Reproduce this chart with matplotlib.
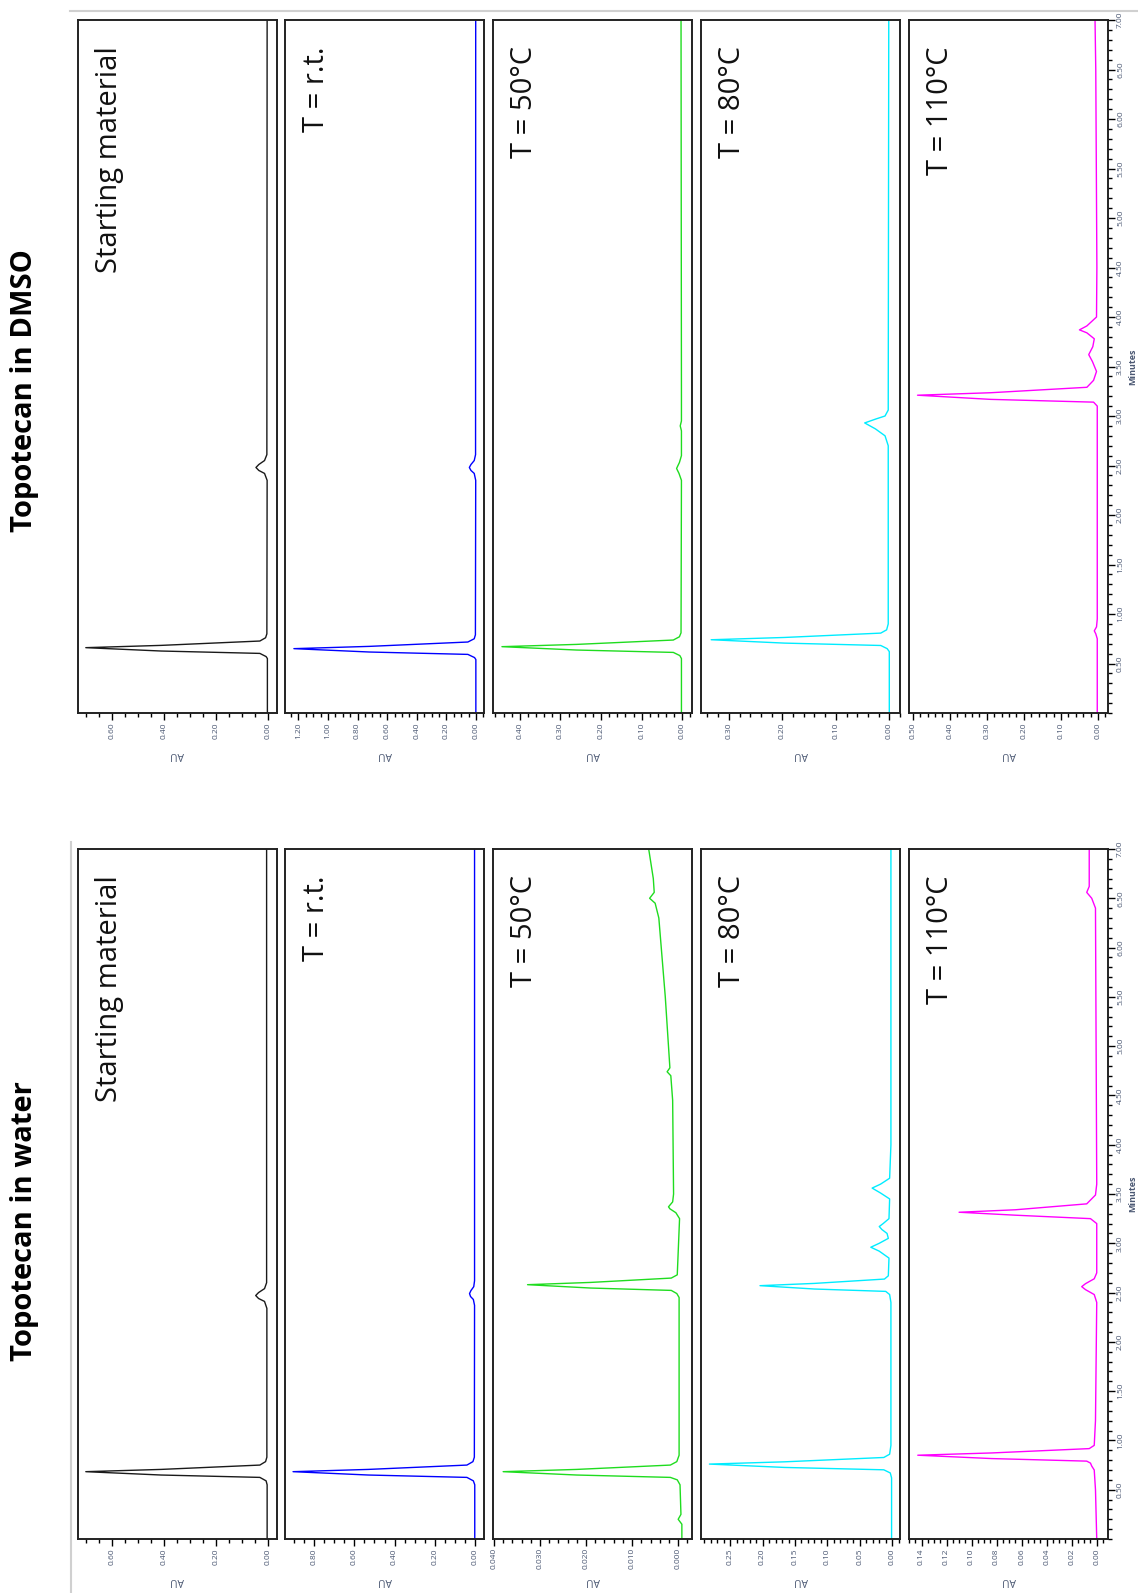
import numpy as np
import matplotlib
matplotlib.use("Agg")
import matplotlib.pyplot as plt
from matplotlib.lines import Line2D
from matplotlib.ticker import MultipleLocator, FixedLocator, FixedFormatter

plt.rcParams['font.family'] = ['Open Sans', 'DejaVu Sans']

panel_labels = ["Starting material", "T = r.t.", "T = 50°C", "T = 80°C", "T = 110°C"]
trace_colors = ["#1a1a1a", "#0000ff", "#1fdc1f", "#00ecff", "#ff00ff"]

# Topotecan in DMSO
dmso_sm_t = [0.00, 0.55, 0.57, 0.602, 0.626, 0.66, 0.683, 0.727, 0.76, 0.80, 2.35, 2.42, 2.45, 2.48, 2.51, 2.55, 2.61, 7.00]
dmso_sm_au = [0.001, 0.001, 0.006, 0.03, 0.41, 0.70, 0.41, 0.03, 0.008, 0.003, 0.002, 0.012, 0.034, 0.045, 0.034, 0.012, 0.003, 0.002]
dmso_rt_t = [0.00, 0.54, 0.56, 0.592, 0.616, 0.65, 0.673, 0.717, 0.75, 0.79, 2.35, 2.42, 2.45, 2.48, 2.51, 2.55, 2.61, 7.00]
dmso_rt_au = [0.001, 0.001, 0.010, 0.055, 0.72, 1.23, 0.72, 0.055, 0.012, 0.004, 0.002, 0.012, 0.034, 0.045, 0.034, 0.012, 0.003, 0.002]
dmso_50_t = [0.00, 0.55, 0.58, 0.612, 0.636, 0.67, 0.693, 0.737, 0.77, 0.81, 2.35, 2.42, 2.47, 2.53, 2.60, 2.85, 2.90, 2.95, 3.20, 7.00]
dmso_50_au = [0.002, 0.002, 0.006, 0.022, 0.26, 0.444, 0.26, 0.022, 0.007, 0.003, 0.002, 0.008, 0.014, 0.007, 0.002, 0.002, 0.005, 0.002, 0.002, 0.003]
dmso_80_t = [0.00, 0.62, 0.65, 0.682, 0.706, 0.74, 0.763, 0.807, 0.84, 0.90, 2.70, 2.80, 2.87, 2.93, 2.97, 3.00, 3.06, 7.00]
dmso_80_au = [0.000, 0.000, 0.004, 0.016, 0.196, 0.333, 0.196, 0.016, 0.005, 0.002, 0.002, 0.008, 0.026, 0.046, 0.025, 0.008, 0.002, 0.001]
dmso_110_t = [0.00, 0.75, 0.80, 0.83, 0.87, 0.95, 3.10, 3.14, 3.168, 3.21, 3.235, 3.29, 3.36, 3.45, 3.55, 3.62, 3.70, 3.78, 3.84, 3.87, 3.91, 4.00, 4.50, 6.50, 7.00]
dmso_110_au = [0.002, 0.002, 0.006, 0.010, 0.004, 0.002, 0.002, 0.012, 0.29, 0.487, 0.29, 0.03, 0.012, 0.004, 0.015, 0.025, 0.014, 0.010, 0.030, 0.050, 0.030, 0.004, 0.003, 0.006, 0.008]

# Topotecan in water
water_sm_t = [0.00, 0.55, 0.59, 0.625, 0.649, 0.683, 0.706, 0.75, 0.785, 0.83, 2.34, 2.41, 2.44, 2.47, 2.50, 2.54, 2.60, 7.00]
water_sm_au = [0.002, 0.002, 0.006, 0.03, 0.41, 0.70, 0.41, 0.03, 0.008, 0.003, 0.003, 0.012, 0.035, 0.046, 0.035, 0.012, 0.004, 0.004]
water_rt_t = [0.00, 0.55, 0.59, 0.625, 0.649, 0.683, 0.706, 0.75, 0.785, 0.83, 2.37, 2.43, 2.46, 2.49, 2.52, 2.56, 2.62, 7.00]
water_rt_au = [0.001, 0.001, 0.008, 0.04, 0.53, 0.905, 0.53, 0.04, 0.01, 0.003, 0.002, 0.008, 0.022, 0.027, 0.020, 0.006, 0.002, 0.002]
water_50_t = [0.00, 0.15, 0.20, 0.25, 0.55, 0.60, 0.625, 0.649, 0.683, 0.706, 0.75, 0.785, 0.85, 2.45, 2.49, 2.522, 2.546, 2.58, 2.603, 2.647, 2.68,
              3.25, 3.31, 3.35, 3.37, 3.42, 3.50, 4.45, 4.70, 4.74, 4.78, 5.50, 6.30, 6.45, 6.50, 6.56, 6.70, 7.00]
water_50_au = [-0.0008, -0.0008, 0.0000, -0.0006, -0.0004, 0.0002, 0.0017, 0.022, 0.038, 0.022, 0.0017, 0.0003, -0.0002, -0.0002, 0.0003, 0.0015, 0.019, 0.0327, 0.019, 0.0015, 0.0002,
               -0.0003, 0.0005, 0.0018, 0.0021, 0.0012, 0.0010, 0.0012, 0.0016, 0.0024, 0.0018, 0.0028, 0.0042, 0.0050, 0.0062, 0.0052, 0.0054, 0.0064]
water_80_t = [0.00, 0.62, 0.67, 0.702, 0.726, 0.76, 0.783, 0.827, 0.86, 0.95, 2.40, 2.48, 2.512, 2.536, 2.57, 2.593, 2.637, 2.67, 2.85, 2.92, 2.96, 3.00,
              3.05, 3.10, 3.14, 3.17, 3.20, 3.25, 3.45, 3.51, 3.56, 3.60, 3.66, 4.00, 7.00]
water_80_au = [0.001, 0.001, 0.003, 0.013, 0.166, 0.282, 0.166, 0.013, 0.004, 0.002, 0.002, 0.004, 0.010, 0.120, 0.204, 0.120, 0.012, 0.006, 0.005, 0.020, 0.033, 0.020,
               0.006, 0.008, 0.016, 0.020, 0.014, 0.005, 0.004, 0.018, 0.031, 0.018, 0.004, 0.002, 0.002]
water_110_t = [0.00, 0.50, 0.70, 0.74, 0.77, 0.79, 0.816, 0.85, 0.873, 0.917, 0.95, 1.20, 2.40, 2.48, 2.53, 2.56, 2.59, 2.64, 2.70,
               3.20, 3.25, 3.285, 3.315, 3.34, 3.40, 3.49, 3.60, 6.40, 6.50, 6.56, 6.62, 7.00]
water_110_au = [0.000, 0.001, 0.002, 0.004, 0.005, 0.008, 0.084, 0.143, 0.084, 0.006, 0.002, 0.001, 0.000, 0.002, 0.009, 0.012, 0.009, 0.002, 0.000,
                0.000, 0.005, 0.065, 0.110, 0.065, 0.008, 0.001, 0.000, 0.001, 0.004, 0.008, 0.006, 0.006]

# -- Echelles AU (gauche, droite) et graduations par panneau
dmso_xlims = [(0.73, -0.036), (1.29, -0.054), (0.466, -0.024), (0.352, -0.020), (0.51, -0.027)]
dmso_major = [0.20, 0.20, 0.10, 0.10, 0.10]
dmso_minor = [0.05, 0.05, 0.02, 0.02, 0.02]
dmso_fmt = ["%.2f"] * 5

water_xlims = [(0.73, -0.036), (0.945, -0.045), (0.0402, -0.003), (0.295, -0.012), (0.150, -0.009)]
water_major = [0.20, 0.20, 0.010, 0.05, 0.02]
water_minor = [0.05, 0.05, 0.002, 0.01, 0.005]
water_fmt = ["%.2f", "%.2f", "%.3f", "%.2f", "%.2f"]

time_labels = ["%.2f" % (0.5 * k) for k in range(1, 15)]

# -- Mise en page (pixels)
W, H = 1138, 1593
lefts = [78, 285, 493, 701, 909]
pw = 199
tick_col = "#4b5873"


def panel_group(fig, top, bottom, traces, xlims, majors, minors, fmts):
    ph = bottom - top
    for i in range(5):
        ax = fig.add_axes([lefts[i] / W, 1 - bottom / H, pw / W, ph / H])
        t, au = traces[i]
        ax.plot(au, t, color=trace_colors[i], lw=1.0)
        ax.set_xlim(*xlims[i])
        ax.set_ylim(0, 7.0)

        # graduations AU
        hi = xlims[i][0]
        maj = np.arange(0, hi + 1e-9, majors[i])
        ax.xaxis.set_major_locator(FixedLocator(maj))
        ax.xaxis.set_major_formatter(FixedFormatter([fmts[i] % v for v in maj]))
        ax.xaxis.set_minor_locator(MultipleLocator(minors[i]))
        ax.tick_params(axis="x", which="major", direction="out", length=5, width=1.0,
                       labelsize=6, labelrotation=90, labelcolor=tick_col, pad=1.5)
        ax.tick_params(axis="x", which="minor", direction="out", length=3, width=1.0)
        ax.set_xlabel("AU", fontsize=7.5, color=tick_col, rotation=180)
        ax.xaxis.set_label_coords(0.5, -41 / ph)
        ax.xaxis.label.set_va("center")

        for sp in ax.spines.values():
            sp.set_linewidth(1.4)
            sp.set_color("#222222")

        if i == 4:
            ax.yaxis.tick_right()
            ax.yaxis.set_major_locator(FixedLocator([0.5 * k for k in range(1, 15)]))
            ax.yaxis.set_major_formatter(FixedFormatter(time_labels))
            ax.yaxis.set_minor_locator(MultipleLocator(0.1))
            ax.tick_params(axis="y", which="major", direction="out", length=5, width=1.0,
                           labelsize=6, labelrotation=90, labelcolor=tick_col, pad=1.5)
            ax.tick_params(axis="y", which="minor", direction="out", length=3, width=1.0)
            ax.yaxis.set_label_position("right")
            ax.set_ylabel("Minutes", fontsize=6.5, color=tick_col, fontweight="bold", rotation=90)
            ax.yaxis.set_label_coords(1 + 25 / pw, 0.5)
            ax.yaxis.label.set_ha("center")
            ax.yaxis.label.set_va("center")
            for lab in ax.get_yticklabels():
                lab.set_verticalalignment("center")
        else:
            ax.set_yticks([])

        ax.text(0.157, 0.962, panel_labels[i], transform=ax.transAxes, rotation=90,
                ha="center", va="top", fontsize=21, color="#111111")


fig = plt.figure(figsize=(W / 100, H / 100), dpi=100)

# cadres gris des captures
fig.add_artist(Line2D([70 / W, 1.0], [1 - 11 / H, 1 - 11 / H], transform=fig.transFigure,
                      color="#d0d0d0", lw=1.5))
fig.add_artist(Line2D([71 / W, 71 / W], [1 - 842 / H, 0.0], transform=fig.transFigure,
                      color="#d0d0d0", lw=1.5))

dmso_traces = [(dmso_sm_t, dmso_sm_au), (dmso_rt_t, dmso_rt_au), (dmso_50_t, dmso_50_au),
               (dmso_80_t, dmso_80_au), (dmso_110_t, dmso_110_au)]
water_traces = [(water_sm_t, water_sm_au), (water_rt_t, water_rt_au), (water_50_t, water_50_au),
                (water_80_t, water_80_au), (water_110_t, water_110_au)]

panel_group(fig, 20, 713, dmso_traces, dmso_xlims, dmso_major, dmso_minor, dmso_fmt)
panel_group(fig, 849, 1539, water_traces, water_xlims, water_major, water_minor, water_fmt)

fig.text(25 / W, 1 - 391 / H, "Topotecan in DMSO", rotation=90, fontsize=21,
         fontweight="bold", ha="center", va="center")
fig.text(25 / W, 1 - 1221 / H, "Topotecan in water", rotation=90, fontsize=21,
         fontweight="bold", ha="center", va="center")

fig.savefig("out.png", dpi=100)
